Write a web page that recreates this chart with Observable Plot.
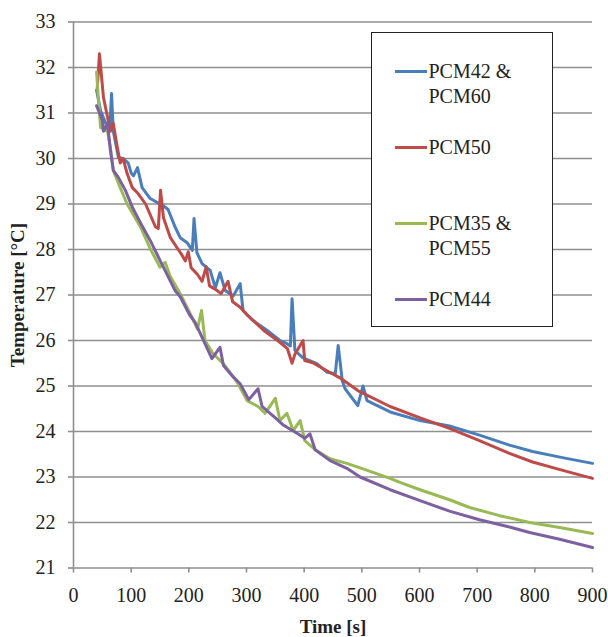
<!DOCTYPE html>
<html><head><meta charset="utf-8">
<script src="https://cdn.jsdelivr.net/npm/d3@7"></script>
<script src="https://cdn.jsdelivr.net/npm/@observablehq/plot@0.6"></script>
<style>
body{margin:0;background:#fff;}
#wrap{position:relative;width:608px;height:637px;font-family:"Liberation Serif","Times New Roman",Times,serif;color:#222;}
#legend{position:absolute;left:371px;top:32px;width:180px;height:293px;border:1.5px solid #222;background:#fff;}
.item{position:absolute;left:22.5px;font-size:20px;line-height:25px;font-family:"Liberation Serif","Times New Roman",Times,serif;}
.sw{position:absolute;left:0;width:32px;height:3px;top:11px;}
.item .t{display:block;margin-left:34px;white-space:nowrap;}
.title{position:absolute;font-weight:bold;font-size:19px;white-space:nowrap;font-family:"Liberation Serif","Times New Roman",Times,serif;}
</style></head>
<body>
<div id="wrap"></div>
<script>
const xTicks = [0,100,200,300,400,500,600,700,800,900];
const yTicks = [21,22,23,24,25,26,27,28,29,30,31,32,33];
const seriesNames = ["PCM42 & PCM60","PCM50","PCM35 & PCM55","PCM44"];
const seriesColors = ["#4a7ebb","#be4b48","#98b954","#7d60a0"];

const blueT = [40,47,59,63,66,69,78,86,95,100,104,111,119,133,150,155,164,176,185,197,206,209,214,223,237,246,254,263,277,289,294,311,336,358,370,376,379,384,398,422,440,454,459,466,471,493,502,509,549,601,652,704,756,796,850,900];
const blueV = [31.5,31.05,30.68,30.7,31.43,30.6,30.02,30.0,29.9,29.68,29.62,29.8,29.36,29.12,29.0,28.97,28.88,28.5,28.26,28.15,27.98,28.68,27.93,27.69,27.54,27.16,27.49,27.1,26.98,27.25,26.66,26.44,26.22,26.0,25.93,25.88,26.92,25.78,25.62,25.49,25.3,25.27,25.89,25.12,24.94,24.57,25.0,24.68,24.43,24.24,24.12,23.92,23.7,23.56,23.42,23.3];

const redT = [41,45,52,64,69,76,81,86,93,102,112,125,142,147,151,156,168,179,187,194,199,204,215,223,230,236,249,256,268,276,289,302,311,330,354,371,379,384,398,401,415,440,462,493,549,601,652,704,756,796,850,900];
const redV = [31.5,32.3,31.34,30.6,30.77,30.24,29.9,30.0,29.67,29.36,29.23,29.0,28.5,28.46,29.3,28.7,28.26,28.05,27.9,27.75,27.95,27.6,27.45,27.3,27.62,27.2,27.1,27.03,27.3,26.85,26.73,26.55,26.45,26.22,26.0,25.82,25.5,25.7,26.0,25.56,25.51,25.33,25.18,24.9,24.55,24.3,24.07,23.8,23.52,23.33,23.14,22.97];

const greenT = [40,43,47,59,64,69,81,93,116,133,150,159,167,185,202,215,222,228,242,260,284,301,320,332,350,358,370,381,393,401,419,445,474,497,549,566,601,652,687,739,791,843,900];
const greenV = [31.9,31.34,30.68,30.6,30.24,29.74,29.36,29.0,28.5,28.02,27.61,27.72,27.43,27.03,26.6,26.25,26.66,26.0,25.71,25.49,25.08,24.68,24.55,24.4,24.73,24.24,24.4,24.02,24.24,23.8,23.6,23.4,23.3,23.2,22.97,22.88,22.72,22.5,22.33,22.15,22.0,21.89,21.76];

const purpleT = [40,50,52,59,64,69,78,90,102,116,133,150,163,176,185,202,211,220,240,254,260,277,289,304,320,327,350,363,376,389,401,410,419,445,474,497,549,601,652,704,756,791,843,900];
const purpleV = [31.16,30.84,30.6,30.77,30.18,29.74,29.58,29.3,28.93,28.59,28.2,27.76,27.43,27.1,26.96,26.55,26.4,26.15,25.6,25.85,25.45,25.2,25.05,24.7,24.94,24.55,24.3,24.15,24.05,23.95,23.85,23.95,23.6,23.36,23.19,23.0,22.72,22.48,22.25,22.06,21.9,21.78,21.63,21.45];

const seriesT = [blueT, redT, greenT, purpleT];
const seriesV = [blueV, redV, greenV, purpleV];
const data = [];
seriesNames.forEach((name, i) => {
  seriesT[i].forEach((t, j) => data.push({series: name, t, v: seriesV[i][j]}));
});

const plot = Plot.plot({
  width: 608, height: 637,
  marginLeft: 73, marginRight: 16, marginTop: 21.5, marginBottom: 69.5,
  style: {fontFamily: "'Liberation Serif','Times New Roman',Times,serif", fontSize: "20px", color: "#222", background: "transparent"},
  x: {domain: [0, 900], label: null},
  y: {domain: [21, 33], label: null},
  color: {domain: seriesNames, range: seriesColors},
  marks: [
    Plot.gridY(yTicks, {stroke: "#8f8f8f", strokeOpacity: 1, strokeWidth: 1.6}),
    Plot.ruleX([0], {stroke: "#8f8f8f", strokeWidth: 1.6}),
    Plot.axisY(yTicks, {tickSize: 5, tickPadding: 13, stroke: "#8f8f8f", strokeWidth: 1.6, fill: "#222", tickFormat: d => String(d)}),
    Plot.axisX(xTicks, {tickSize: 5, tickPadding: 15, stroke: "#8f8f8f", strokeWidth: 1.6, fill: "#222", tickFormat: d => String(d)}),
    Plot.line(data, {x: "t", y: "v", z: "series", stroke: "series", strokeWidth: 3, strokeLinejoin: "round", strokeLinecap: "round"})
  ]
});

const wrap = document.getElementById("wrap");
wrap.appendChild(plot);

const yt = document.createElement("div");
yt.className = "title";
yt.textContent = "Temperature [°C]";
yt.style.left = "18px"; yt.style.top = "295px";
yt.style.transform = "translate(-50%,-50%) rotate(-90deg)";
wrap.appendChild(yt);

const xt = document.createElement("div");
xt.className = "title";
xt.textContent = "Time [s]";
xt.style.left = "333px"; xt.style.top = "627px";
xt.style.transform = "translate(-50%,-50%)";
wrap.appendChild(xt);

const legend = document.createElement("div");
legend.id = "legend";
const legendLines = [["PCM42 &","PCM60"],["PCM50"],["PCM35 &","PCM55"],["PCM44"]];
const legendTops = [25.5, 101.5, 177.5, 253.5];
legendLines.forEach((lines, i) => {
  const it = document.createElement("div");
  it.className = "item";
  it.style.top = legendTops[i] + "px";
  const sw = document.createElement("div");
  sw.className = "sw";
  sw.style.background = seriesColors[i];
  it.appendChild(sw);
  lines.forEach(l => {
    const s = document.createElement("span");
    s.className = "t";
    s.textContent = l;
    it.appendChild(s);
  });
  legend.appendChild(it);
});
wrap.appendChild(legend);
</script>
</body></html>
